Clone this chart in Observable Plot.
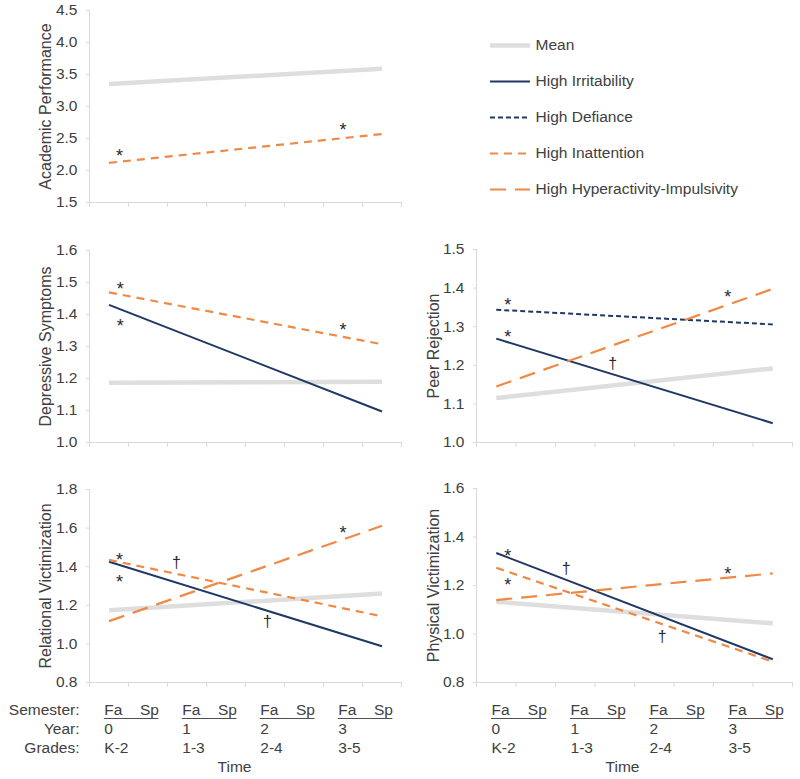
<!DOCTYPE html>
<html>
<head>
<meta charset="utf-8">
<script src="https://cdn.jsdelivr.net/npm/d3@7"></script>
<script src="https://cdn.jsdelivr.net/npm/@observablehq/plot@0.6"></script>
<style>
  body { margin: 0; background: #fff; }
  #chart { position: relative; width: 800px; height: 779px; background: #fff; font-family: "Liberation Sans", Arial, sans-serif; }
  #chart > svg { position: absolute; overflow: visible; }
</style>
</head>
<body>
<div id="chart"></div>
<script>
// ---------- Data ----------
const timeLabels = ["Fa 0", "Sp 0", "Fa 1", "Sp 1", "Fa 2", "Sp 2", "Fa 3", "Sp 3"];
const semesterNames = ["Fa", "Sp"];
const yearLabels = ["0", "1", "2", "3"];
const gradeLabels = ["K-2", "1-3", "2-4", "3-5"];
const rowLabels = ["Semester:", "Year:", "Grades:"];
const seriesNames = ["Mean", "High Irritability", "High Defiance", "High Inattention", "High Hyperactivity-Impulsivity"];

// values at first (Fa, Year 0) and last (Sp, Year 3) time points
const academicMean = [3.35, 3.59];
const academicInattention = [2.12, 2.57];

const depressiveMean = [1.187, 1.19];
const depressiveIrritability = [1.43, 1.097];
const depressiveInattention = [1.469, 1.307];

const peerMean = [1.115, 1.192];
const peerIrritability = [1.269, 1.05];
const peerDefiance = [1.344, 1.306];
const peerHyperactivity = [1.145, 1.398];

const relationalMean = [1.174, 1.261];
const relationalIrritability = [1.426, 0.988];
const relationalInattention = [1.435, 1.143];
const relationalHyperactivity = [1.118, 1.612];

const physicalMean = [1.133, 1.044];
const physicalIrritability = [1.334, 0.896];
const physicalInattention = [1.273, 0.886];
const physicalHyperactivity = [1.14, 1.25];

// significance markers: [symbol, time position, value]
const academicNotes = [["*", 0.77, 2.30], ["*", 6.5, 2.70]];
const depressiveNotes = [["*", 0.79, 1.495], ["*", 0.79, 1.38], ["*", 6.5, 1.365]];
const peerNotes = [["*", 0.79, 1.368], ["*", 0.79, 1.286], ["*", 6.36, 1.388], ["†", 3.45, 1.203]];
const relationalNotes = [["*", 0.77, 1.461], ["*", 0.77, 1.348], ["*", 6.5, 1.60], ["†", 2.23, 1.418], ["†", 4.56, 1.113]];
const physicalNotes = [["*", 0.79, 1.343], ["*", 0.79, 1.222], ["*", 6.36, 1.267], ["†", 2.27, 1.27], ["†", 4.70, 0.989]];

// y tick labels
const academicTicks = [1.5, 2.0, 2.5, 3.0, 3.5, 4.0, 4.5];
const depressiveTicks = [1.0, 1.1, 1.2, 1.3, 1.4, 1.5, 1.6];
const peerTicks = [1.0, 1.1, 1.2, 1.3, 1.4, 1.5];
const relationalTicks = [0.8, 1.0, 1.2, 1.4, 1.6, 1.8];
const physicalTicks = [0.8, 1.0, 1.2, 1.4, 1.6];

// ---------- Styles ----------
const axisGray = "#d9d9d9";
const textColor = "#404040";
const navy = "#1f3864";
const orange = "#ee8a46";
const styles = {
  "Mean": {stroke: "#dedede", strokeWidth: 4.5},
  "High Irritability": {stroke: navy, strokeWidth: 2},
  "High Defiance": {stroke: navy, strokeWidth: 2, strokeDasharray: "5,3"},
  "High Inattention": {stroke: orange, strokeWidth: 2.2, strokeDasharray: "8,6"},
  "High Hyperactivity-Impulsivity": {stroke: orange, strokeWidth: 2.2, strokeDasharray: "16,9"}
};
const fontStyle = {fontFamily: "'Liberation Sans', Arial, sans-serif", fontSize: "15.5px", color: textColor, background: "transparent", overflow: "visible"};

const chart = document.getElementById("chart");
const nT = timeLabels.length;
const boundaries = d3.range(0, nT + 1);

function makePanel(cfg) {
  const ticks = cfg.ticks;
  const yMin = ticks[0], yMax = ticks[ticks.length - 1];
  const marks = [
    Plot.ruleX([0], {stroke: axisGray}),
    Plot.ruleY([yMin], {stroke: axisGray}),
    Plot.axisX({ticks: boundaries, tickFormat: () => "", tickSize: 5, stroke: axisGray, label: null}),
    Plot.axisY({ticks, tickFormat: d3.format(".1f"), tickSize: 3, tickPadding: 9, stroke: axisGray, fill: textColor, label: null}),
    Plot.text([cfg.title], {frameAnchor: "left", rotate: -90, dx: cfg.titleDx, textAnchor: "middle", lineAnchor: "middle", fill: textColor, fontSize: 16, text: d => d})
  ];
  for (const s of cfg.series) {
    const rows = s.values.map((v, i) => ({t: (i === 0 ? 0 : nT - 1) + 0.5, v}));
    marks.push(Plot.line(rows, {x: "t", y: "v", ...styles[s.name], strokeLinecap: "butt"}));
  }
  marks.push(Plot.text(cfg.notes.filter(d => d[0] === "*"), {x: d => d[1], y: d => d[2], text: d => d[0], dy: 5, fill: "#2a2a2a", fontSize: 18}));
  marks.push(Plot.text(cfg.notes.filter(d => d[0] !== "*"), {x: d => d[1], y: d => d[2], text: d => d[0], fill: "#2a2a2a", fontSize: 16}));
  if (cfg.bottom) {
    const lbl = {fill: textColor, fontSize: 15.5, textAnchor: "start", lineAnchor: "middle", frameAnchor: "bottom"};
    marks.push(Plot.text(yearLabels, {x: (d, i) => 2 * i + 0.38, text: () => semesterNames[0], dy: 28, ...lbl}));
    marks.push(Plot.text(yearLabels, {x: (d, i) => 2 * i + 1.78, text: () => semesterNames[1], dy: 28, ...lbl, textAnchor: "end"}));
    marks.push(Plot.ruleY(yearLabels, {y: () => yMin, x1: (d, i) => 2 * i + 0.38, x2: (d, i) => 2 * i + 1.78, dy: 36, stroke: "#505050", strokeWidth: 1}));
    marks.push(Plot.text(yearLabels, {x: (d, i) => 2 * i + 0.38, text: d => d, dy: 47, ...lbl}));
    marks.push(Plot.text(gradeLabels, {x: (d, i) => 2 * i + 0.38, text: d => d, dy: 66, ...lbl}));
    marks.push(Plot.text(["Time"], {frameAnchor: "bottom", lineAnchor: "middle", text: d => d, dy: 85, dx: cfg.timeDx, fill: textColor, fontSize: 15.5}));
    if (cfg.rowLabels) {
      rowLabels.forEach((r, k) => {
        marks.push(Plot.text([r], {frameAnchor: "bottom-left", lineAnchor: "middle", text: d => d, dx: -10, dy: 28 + 19 * k, textAnchor: "end", fill: textColor, fontSize: 15.5}));
      });
    }
  }
  const svg = Plot.plot({
    width: cfg.width, height: cfg.height,
    marginLeft: cfg.marginLeft, marginRight: cfg.marginRight,
    marginTop: 10, marginBottom: cfg.height - 10 - cfg.frameH,
    x: {domain: [0, nT], axis: null},
    y: {domain: [yMin, yMax], axis: null},
    style: fontStyle,
    marks
  });
  svg.style.left = cfg.left + "px";
  svg.style.top = cfg.top + "px";
  chart.appendChild(svg);
}

const leftGeom = {left: 0, width: 401, marginLeft: 89, marginRight: 0, titleDx: -44, timeDx: -11};
const rightGeom = {left: 400, width: 400, marginLeft: 76, marginRight: 8, titleDx: -43, timeDx: -12};

makePanel({...leftGeom, top: 0, height: 214, frameH: 192, title: "Academic Performance", ticks: academicTicks,
  series: [{name: "Mean", values: academicMean}, {name: "High Inattention", values: academicInattention}], notes: academicNotes});

makePanel({...leftGeom, top: 240, height: 214, frameH: 192, title: "Depressive Symptoms", ticks: depressiveTicks,
  series: [{name: "Mean", values: depressiveMean}, {name: "High Irritability", values: depressiveIrritability}, {name: "High Inattention", values: depressiveInattention}], notes: depressiveNotes});

makePanel({...rightGeom, top: 239, height: 214, frameH: 193, title: "Peer Rejection", ticks: peerTicks,
  series: [{name: "Mean", values: peerMean}, {name: "High Defiance", values: peerDefiance}, {name: "High Irritability", values: peerIrritability}, {name: "High Hyperactivity-Impulsivity", values: peerHyperactivity}], notes: peerNotes});

makePanel({...leftGeom, top: 479, height: 300, frameH: 193, title: "Relational Victimization", ticks: relationalTicks, bottom: true, rowLabels: true,
  series: [{name: "Mean", values: relationalMean}, {name: "High Irritability", values: relationalIrritability}, {name: "High Inattention", values: relationalInattention}, {name: "High Hyperactivity-Impulsivity", values: relationalHyperactivity}], notes: relationalNotes});

makePanel({...rightGeom, top: 478, height: 300, frameH: 194, title: "Physical Victimization", ticks: physicalTicks, bottom: true,
  series: [{name: "Mean", values: physicalMean}, {name: "High Irritability", values: physicalIrritability}, {name: "High Inattention", values: physicalInattention}, {name: "High Hyperactivity-Impulsivity", values: physicalHyperactivity}], notes: physicalNotes});

// ---------- Legend ----------
const legendMarks = seriesNames.map(n => Plot.ruleY([n], {y: d => d, x1: 0, x2: 1, ...styles[n], strokeLinecap: "butt"}));
legendMarks.push(Plot.text(seriesNames, {x: 1, y: d => d, dx: 5, textAnchor: "start", fill: textColor, fontSize: 15.5}));
const legend = Plot.plot({
  width: 320, height: 190, margin: 0,
  x: {domain: [0, 1], range: [10, 50], axis: null},
  y: {type: "point", domain: seriesNames, range: [20, 164], padding: 0, axis: null},
  style: fontStyle,
  marks: legendMarks
});
legend.style.left = "480px";
legend.style.top = "25px";
chart.appendChild(legend);
</script>
</body>
</html>
